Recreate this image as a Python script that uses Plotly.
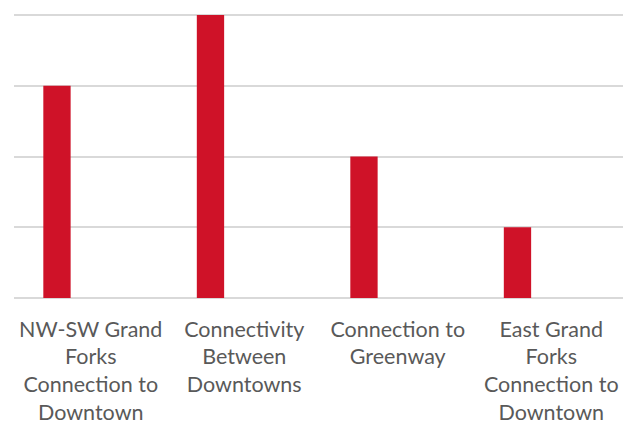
import plotly.graph_objects as go

categories = [
    "NW-SW Grand<br>Forks<br>Connection to<br>Downtown",
    "Connectivity<br>Between<br>Downtowns",
    "Connection to<br>Greenway",
    "East Grand<br>Forks<br>Connection to<br>Downtown",
]
values = [3, 4, 2, 1]

fig = go.Figure()
fig.add_trace(go.Bar(
    x=categories, y=values,
    marker=dict(color="#CF1228", line=dict(width=0)),
    width=0.178, offset=-0.309,
))
# page body has an 8px margin; margins compensate so the plot lands where the reference has it
fig.update_layout(
    width=631, height=426,
    margin=dict(l=6, r=11, t=5, b=136),
    paper_bgcolor="white", plot_bgcolor="white",
    showlegend=False,
    font=dict(family="Lato", size=21.5, color="#595959"),
)
fig.update_xaxes(showgrid=False, showline=False, ticks="", tickangle=0,
                 automargin=False, ticklabelstandoff=16,
                 tickfont=dict(family="Lato", size=21.5, color="#595959"))
fig.update_yaxes(range=[0, 4.03], tickvals=[0, 1, 2, 3, 4], showticklabels=False,
                 automargin=False,
                 gridcolor="#D9D9D9", gridwidth=1.5,
                 zeroline=True, zerolinecolor="#D9D9D9", zerolinewidth=1.5,
                 showline=False)
fig.write_html("out.html")
